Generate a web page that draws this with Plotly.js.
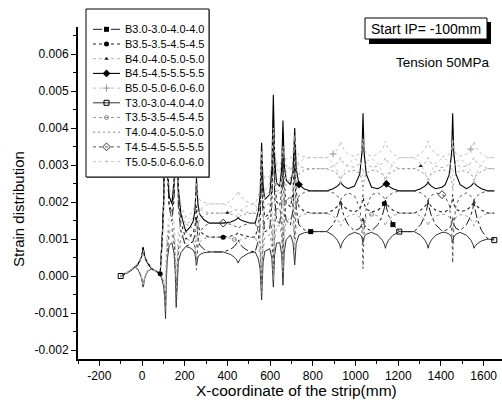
<!DOCTYPE html>
<html>
<head>
<meta charset="utf-8">
<script src="https://cdn.plot.ly/plotly-3.0.1.min.js"></script>
<style>html,body{margin:0;padding:0;background:#fff;}#chart{width:502px;height:414px;}</style>
</head>
<body>
<div id="chart"></div>
<script>
// Strain values are in units of 1e-3 (tick labels show the real strain)
const xPos = [
  -100, -60, -33, -20, -9, -2, 5, 13, 25, 45, 70, 85,
  95, 102, 107, 110, 113, 118, 127,
  140, 150, 156, 160, 164, 170, 182,
  205, 225, 240, 248, 255, 262, 270, 290, 315,
  380, 400, 415, 432, 442, 450, 458, 468, 485, 500, 530,
  545, 553, 560, 567, 575,
  598, 608, 615, 621, 630,
  645, 654, 660, 666, 675,
  695, 707, 715, 722, 735, 760, 790,
  865, 895, 915, 925, 930, 935, 945, 965, 995,
  1020, 1030, 1035, 1040, 1050, 1070,
  1075, 1105, 1125, 1135, 1140, 1145, 1155, 1175, 1205,
  1240,
  1275, 1305, 1325, 1335, 1340, 1345, 1355, 1375, 1405,
  1420, 1440, 1450, 1455, 1460, 1470, 1490,
  1520, 1540, 1550, 1555, 1560, 1570, 1590, 1620, 1650
];

const B30 = [
  0, 0.12, 0.25, 0.31, 0.43, 0.54, 0.78, 0.52, 0.36, 0.2, 0.12, 0.05,
  1.17, 2.29, 4.52, 7.5, 4.94, 3.02, 1.87,
  1.49, 2.08, 3.25, 5.0, 3.11, 1.85, 1.22,
  0.8, 0.86, 0.96, 1.12, 1.6, 1.03, 0.84, 0.72, 0.65,
  0.65, 0.68, 0.72, 0.8, 0.87, 0.98, 0.87, 0.8, 0.72, 0.68, 0.65,
  0.97, 1.4, 2.8, 1.57, 1.19,
  1.28, 1.92, 3.8, 2.13, 1.51,
  1.42, 1.9, 3.2, 1.96, 1.5,
  1.38, 1.78, 3.0, 1.83, 1.38, 1.25, 1.2,
  1.2, 1.39, 1.63, 1.84, 2.05, 1.84, 1.63, 1.39, 1.22,
  1.29, 1.4, 1.6, 1.4, 1.29, 1.23,
  1.22, 1.39, 1.63, 1.84, 2.05, 1.84, 1.63, 1.39, 1.2,
  1.2,
  1.2, 1.39, 1.63, 1.84, 2.05, 1.84, 1.63, 1.39, 1.22,
  1.23, 1.29, 1.4, 1.6, 1.4, 1.29, 1.23,
  1.39, 1.63, 1.84, 2.05, 1.79, 1.54, 1.23, 1.0, 1.0
];
const B35 = [
  0, 0.11, 0.24, 0.3, 0.41, 0.52, 0.74, 0.5, 0.35, 0.19, 0.11, 0.06,
  1.02, 1.99, 3.92, 6.5, 4.42, 2.86, 1.92,
  1.72, 2.35, 3.61, 5.5, 3.48, 2.13, 1.45,
  1.0, 1.07, 1.18, 1.36, 1.9, 1.39, 1.22, 1.11, 1.05,
  1.05, 1.06, 1.08, 1.11, 1.13, 1.17, 1.13, 1.11, 1.08, 1.06, 1.05,
  1.37, 1.8, 3.2, 1.97, 1.59,
  1.69, 2.35, 4.3, 2.63, 2.01,
  1.9, 2.36, 3.6, 2.42, 1.99,
  1.87, 2.24, 3.4, 2.3, 1.87, 1.75, 1.7,
  1.7, 1.78, 1.88, 1.96, 2.05, 1.96, 1.88, 1.78, 1.73,
  1.81, 1.95, 2.2, 1.95, 1.81, 1.74,
  1.73, 1.78, 1.88, 1.96, 2.05, 1.96, 1.88, 1.78, 1.7,
  1.7,
  1.7, 1.78, 1.88, 1.96, 2.05, 1.96, 1.88, 1.78, 1.73,
  1.74, 1.81, 1.95, 2.2, 1.95, 1.81, 1.74,
  1.78, 1.88, 1.96, 2.05, 1.96, 1.88, 1.78, 1.7, 1.7
];
const B40 = [
  0, 0.13, 0.26, 0.31, 0.42, 0.52, 0.72, 0.49, 0.35, 0.21, 0.13, 0.07,
  0.87, 1.69, 3.32, 5.5, 3.98, 2.84, 2.16,
  1.99, 2.43, 3.3, 4.6, 3.16, 2.2, 1.72,
  1.4, 1.47, 1.58, 1.76, 2.3, 1.94, 1.82, 1.74, 1.7,
  1.7, 1.71, 1.73, 1.76, 1.78, 1.82, 1.78, 1.76, 1.73, 1.71, 1.7,
  1.9, 2.16, 3.0, 2.48, 2.32,
  2.51, 3.04, 4.6, 3.36, 2.9,
  2.8, 3.09, 3.9, 3.22, 2.97,
  2.88, 3.06, 3.6, 3.15, 2.97, 2.92, 2.9,
  2.9, 2.97, 3.05, 3.13, 3.2, 3.13, 3.05, 2.97, 2.94,
  3.03, 3.2, 3.5, 3.2, 3.03, 2.95,
  2.94, 2.97, 3.05, 3.13, 3.2, 3.13, 3.05, 2.97, 2.9,
  2.9,
  2.9, 2.97, 3.05, 3.13, 3.2, 3.13, 3.05, 2.97, 2.93,
  2.95, 3.03, 3.2, 3.5, 3.2, 3.03, 2.95,
  2.97, 3.05, 3.13, 3.2, 3.13, 3.05, 2.97, 2.9, 2.9
];
const B45 = [
  0, 0.12, 0.25, 0.31, 0.43, 0.53, 0.76, 0.51, 0.36, 0.2, 0.12, 0.05,
  1.09, 2.14, 4.22, 7.0, 4.8, 3.15, 2.16,
  1.95, 2.63, 3.98, 6.0, 3.84, 2.4, 1.68,
  1.2, 1.32, 1.49, 1.78, 2.65, 1.92, 1.67, 1.52, 1.43,
  1.43, 1.44, 1.46, 1.5, 1.53, 1.58, 1.53, 1.5, 1.46, 1.44, 1.43,
  1.76, 2.19, 3.6, 2.43, 2.07,
  2.2, 2.89, 4.9, 3.16, 2.52,
  2.42, 2.9, 4.2, 3.02, 2.59,
  2.47, 2.84, 4.0, 2.9, 2.47, 2.35, 2.3,
  2.3, 2.36, 2.43, 2.49, 2.55, 2.49, 2.43, 2.36, 2.43,
  2.76, 3.35, 4.4, 3.35, 2.76, 2.47,
  2.4, 2.36, 2.43, 2.49, 2.55, 2.49, 2.43, 2.36, 2.3,
  2.3,
  2.3, 2.36, 2.43, 2.49, 2.55, 2.49, 2.43, 2.36, 2.4,
  2.47, 2.76, 3.35, 4.4, 3.35, 2.76, 2.47,
  2.36, 2.43, 2.49, 2.55, 2.49, 2.43, 2.36, 2.3, 2.3
];
const B50 = [
  0, 0.13, 0.27, 0.32, 0.42, 0.52, 0.7, 0.5, 0.37, 0.22, 0.13, 0.07,
  0.94, 1.84, 3.62, 6.0, 4.36, 3.13, 2.39,
  2.19, 2.63, 3.5, 4.8, 3.36, 2.4, 1.92,
  1.6, 1.67, 1.78, 1.96, 2.5, 2.17, 2.06, 1.99, 1.95,
  1.95, 1.98, 2.03, 2.11, 2.18, 2.3, 2.18, 2.11, 2.03, 1.98, 1.95,
  2.17, 2.46, 3.4, 2.82, 2.64,
  2.7, 3.03, 4.0, 3.32, 3.07,
  2.99, 3.13, 3.5, 3.25, 3.16,
  3.17, 3.32, 3.8, 3.41, 3.26, 3.22, 3.2,
  3.2, 3.3, 3.43, 3.54, 3.65, 3.54, 3.43, 3.3, 3.23,
  3.31, 3.45, 3.7, 3.45, 3.31, 3.24,
  3.23, 3.3, 3.43, 3.54, 3.65, 3.54, 3.43, 3.3, 3.2,
  3.2,
  3.2, 3.3, 3.43, 3.54, 3.65, 3.54, 3.43, 3.3, 3.23,
  3.24, 3.31, 3.45, 3.7, 3.45, 3.31, 3.24,
  3.3, 3.43, 3.54, 3.65, 3.54, 3.43, 3.3, 3.2, 3.2
];
const T30 = [
  0, 0.12, 0.25, 0.18, 0.06, -0.06, -0.3, -0.04, 0.13, 0.2, 0.12, 0.05,
  -0.13, -0.31, -0.67, -1.15, -0.25, 0.43, 0.83,
  0.9, 0.61, 0.03, -0.85, -0.11, 0.39, 0.63,
  0.8, 0.76, 0.7, 0.6, 0.3, 0.51, 0.58, 0.63, 0.65,
  0.65, 0.62, 0.58, 0.51, 0.45, 0.35, 0.45, 0.51, 0.58, 0.62, 0.65,
  0.46, 0.19, -0.65, 0.36, 0.67,
  0.74, 0.48, -0.3, 0.57, 0.89,
  0.9, 0.59, -0.25, 0.65, 0.98,
  1.11, 0.91, 0.3, 0.88, 1.11, 1.17, 1.2,
  1.2, 1.1, 0.97, 0.86, 0.75, 0.86, 0.97, 1.1, 1.18,
  1.13, 1.05, 0.9, 1.05, 1.13, 1.18,
  1.18, 1.1, 0.97, 0.86, 0.75, 0.86, 0.97, 1.1, 1.2,
  1.2,
  1.2, 1.1, 0.97, 0.86, 0.75, 0.86, 0.97, 1.1, 1.18,
  1.18, 1.13, 1.05, 0.9, 1.05, 1.13, 1.18,
  1.1, 0.97, 0.86, 0.75, 0.81, 0.87, 0.95, 1.0, 0.97
];
const T35 = [
  0, 0.11, 0.24, 0.18, 0.07, -0.05, -0.27, -0.03, 0.13, 0.19, 0.11, 0.06,
  -0.09, -0.24, -0.52, -0.9, -0.02, 0.64, 1.04,
  1.11, 0.83, 0.26, -0.6, 0.12, 0.6, 0.84,
  1.0, 0.96, 0.89, 0.78, 0.45, 0.81, 0.93, 1.01, 1.05,
  1.05, 1.04, 1.02, 0.99, 0.97, 0.93, 0.97, 0.99, 1.02, 1.04, 1.05,
  0.83, 0.53, -0.45, 0.69, 1.04,
  1.12, 0.81, -0.1, 0.95, 1.34,
  1.37, 1.03, 0.1, 1.09, 1.46,
  1.6, 1.38, 0.7, 1.35, 1.6, 1.67, 1.7,
  1.7, 1.62, 1.52, 1.44, 1.35, 1.44, 1.52, 1.62, 1.67,
  1.59, 1.45, 1.2, 1.45, 1.59, 1.66,
  1.67, 1.62, 1.52, 1.44, 1.35, 1.44, 1.52, 1.62, 1.7,
  1.7,
  1.7, 1.62, 1.52, 1.44, 1.35, 1.44, 1.52, 1.62, 1.67,
  1.66, 1.59, 1.45, 1.2, 1.45, 1.59, 1.66,
  1.62, 1.52, 1.44, 1.35, 1.44, 1.52, 1.62, 1.7, 1.7
];
const T40 = [
  0, 0.13, 0.26, 0.19, 0.08, -0.03, -0.24, -0.01, 0.14, 0.21, 0.13, 0.07,
  -0.05, -0.15, -0.34, -0.6, 0.32, 1.01, 1.42,
  1.5, 1.2, 0.59, -0.3, 0.47, 0.98, 1.23,
  1.4, 1.35, 1.27, 1.14, 0.75, 1.32, 1.51, 1.63, 1.7,
  1.7, 1.69, 1.67, 1.64, 1.62, 1.58, 1.62, 1.64, 1.67, 1.69, 1.7,
  1.46, 1.14, 0.1, 1.46, 1.88,
  1.98, 1.6, 0.5, 1.8, 2.28,
  2.33, 1.92, 0.8, 2.04, 2.5,
  2.67, 2.38, 1.5, 2.41, 2.76, 2.86, 2.9,
  2.9, 2.83, 2.75, 2.68, 2.6, 2.68, 2.75, 2.83, 2.86,
  2.77, 2.6, 2.3, 2.6, 2.77, 2.85,
  2.86, 2.83, 2.75, 2.68, 2.6, 2.68, 2.75, 2.83, 2.9,
  2.9,
  2.9, 2.83, 2.75, 2.68, 2.6, 2.68, 2.75, 2.83, 2.87,
  2.85, 2.77, 2.6, 2.3, 2.6, 2.77, 2.85,
  2.83, 2.75, 2.68, 2.6, 2.68, 2.75, 2.83, 2.9, 2.9
];
const T45 = [
  0, 0.12, 0.25, 0.18, 0.05, -0.07, -0.32, -0.05, 0.12, 0.2, 0.12, 0.05,
  -0.11, -0.27, -0.58, -1.0, 0.0, 0.75, 1.2,
  1.28, 0.95, 0.29, -0.7, 0.16, 0.73, 1.01,
  1.2, 1.12, 0.99, 0.78, 0.16, 0.92, 1.18, 1.34, 1.43,
  1.43, 1.42, 1.4, 1.36, 1.33, 1.28, 1.33, 1.36, 1.4, 1.42, 1.43,
  1.19, 0.86, -0.2, 1.1, 1.5,
  1.59, 1.24, 0.2, 1.38, 1.81,
  1.84, 1.45, 0.4, 1.58, 2.01,
  2.17, 1.88, 1.0, 1.84, 2.17, 2.26, 2.3,
  2.3, 2.25, 2.17, 2.11, 2.05, 2.11, 2.17, 2.25, 2.17,
  1.84, 1.25, 0.2, 1.25, 1.84, 2.13,
  2.2, 2.25, 2.17, 2.11, 2.05, 2.11, 2.17, 2.25, 2.3,
  2.3,
  2.3, 2.25, 2.17, 2.11, 2.05, 2.11, 2.17, 2.25, 2.2,
  2.15, 1.9, 1.33, 0.35, 1.33, 1.9, 2.15,
  2.25, 2.17, 2.11, 2.05, 2.11, 2.17, 2.25, 2.3, 2.3
];
const T50 = [
  0, 0.13, 0.27, 0.2, 0.09, -0.02, -0.22, 0.0, 0.15, 0.22, 0.13, 0.07,
  -0.02, -0.09, -0.22, -0.4, 0.52, 1.21, 1.62,
  1.71, 1.43, 0.86, 0.0, 0.72, 1.2, 1.44,
  1.6, 1.55, 1.48, 1.36, 1.0, 1.57, 1.76, 1.88, 1.95,
  1.95, 1.92, 1.88, 1.81, 1.75, 1.65, 1.75, 1.81, 1.88, 1.92, 1.95,
  1.7, 1.37, 0.3, 1.73, 2.17,
  2.28, 1.9, 0.8, 2.1, 2.58,
  2.64, 2.25, 1.2, 2.38, 2.81,
  2.99, 2.75, 2.0, 2.78, 3.08, 3.17, 3.2,
  3.2, 3.04, 2.82, 2.64, 2.45, 2.64, 2.82, 3.04, 3.17,
  3.09, 2.95, 2.7, 2.95, 3.09, 3.16,
  3.17, 3.04, 2.82, 2.64, 2.45, 2.64, 2.82, 3.04, 3.2,
  3.2,
  3.2, 3.04, 2.82, 2.64, 2.45, 2.64, 2.82, 3.04, 3.18,
  3.16, 3.09, 2.95, 2.7, 2.95, 3.09, 3.16,
  3.04, 2.82, 2.64, 2.45, 2.64, 2.82, 3.04, 3.2, 3.2
];

const seriesNames = [
  'B3.0-3.0-4.0-4.0', 'B3.5-3.5-4.5-4.5', 'B4.0-4.0-5.0-5.0', 'B4.5-4.5-5.5-5.5', 'B5.0-5.0-6.0-6.0',
  'T3.0-3.0-4.0-4.0', 'T3.5-3.5-4.5-4.5', 'T4.0-4.0-5.0-5.0', 'T4.5-4.5-5.5-5.5', 'T5.0-5.0-6.0-6.0'
];
const seriesValues = [B30, B35, B40, B45, B50, T30, T35, T40, T45, T50];
// x positions (on the sampling grid) where the series symbol is drawn
const markerAt = [
  [790, 1175], [85, 380, 1135], [400, 1305], [735, 1145], [895, 1540],
  [-100, 1205, 1650], [432, 1075], [], [380, 1405], []
];

const xTickVals = [-200, 0, 200, 400, 600, 800, 1000, 1200, 1400, 1600];
const xTickText = ['-200', '0', '200', '400', '600', '800', '1000', '1200', '1400', '1600'];
const yTickVals = [-2, -1, 0, 1, 2, 3, 4, 5, 6];
const yTickText = ['-0.002', '-0.001', '0.000', '0.001', '0.002', '0.003', '0.004', '0.005', '0.006'];

const styles = [
  {line: {color: '#1a1a1a', width: 1, dash: 'dashdot'}, marker: {symbol: 'square', size: 5, color: '#000'}},
  {line: {color: '#222', width: 1.1, dash: 'dot'}, marker: {symbol: 'circle', size: 5, color: '#000'}},
  {line: {color: '#b0b0b0', width: 1, dash: 'dot'}, marker: {symbol: 'triangle-up', size: 4, color: '#222'}},
  {line: {color: '#000', width: 1.1, dash: 'solid'}, marker: {symbol: 'diamond', size: 6, color: '#000'}},
  {line: {color: '#c0c0c0', width: 1, dash: 'dot'}, marker: {symbol: 'cross-thin', size: 5, color: '#999', line: {color: '#999', width: 1}}},
  {line: {color: '#333', width: 1, dash: 'solid'}, marker: {symbol: 'square-open', size: 5, color: '#000', line: {width: 1}}},
  {line: {color: '#9a9a9a', width: 1, dash: 'dot'}, marker: {symbol: 'circle-open', size: 4, color: '#888', line: {width: 1}}},
  {line: {color: '#888', width: 1, dash: '2px,3px'}, marker: null},
  {line: {color: '#555', width: 1, dash: 'dot'}, marker: {symbol: 'diamond-open', size: 6, color: '#333', line: {width: 1}}},
  {line: {color: '#c8c8c8', width: 1, dash: 'dot'}, marker: {symbol: 'circle', size: 2, color: '#bbb'}}
];

const FONT = 'Liberation Sans, Arial, sans-serif';
const W = 502, H = 414;
const px = v => v / W;          // pixel -> paper x
const py = v => 1 - v / H;      // pixel -> paper y

const traces = [];
seriesValues.forEach((ys, i) => {
  traces.push({
    type: 'scatter', mode: 'lines', x: xPos, y: ys, name: seriesNames[i],
    line: styles[i].line, showlegend: false, hoverinfo: 'skip', xaxis: 'x', yaxis: 'y'
  });
});
seriesValues.forEach((ys, i) => {
  if (!styles[i].marker || markerAt[i].length === 0) return;
  const mx = [], my = [];
  markerAt[i].forEach(xv => { const k = xPos.indexOf(xv); if (k >= 0) { mx.push(xPos[k]); my.push(ys[k]); } });
  traces.push({
    type: 'scatter', mode: 'markers', x: mx, y: my, marker: styles[i].marker,
    showlegend: false, hoverinfo: 'skip', xaxis: 'x', yaxis: 'y'
  });
});

// custom legend (pixel-based helper axes x2/y2)
const legendAnn = [];
seriesNames.forEach((name, i) => {
  const yy = 29.3 + 14.7 * i;
  traces.push({type: 'scatter', mode: 'lines', x: [93, 120], y: [yy, yy], line: styles[i].line,
    showlegend: false, hoverinfo: 'skip', xaxis: 'x2', yaxis: 'y2'});
  if (styles[i].marker) {
    traces.push({type: 'scatter', mode: 'markers', x: [106.5], y: [yy], marker: styles[i].marker,
      showlegend: false, hoverinfo: 'skip', xaxis: 'x2', yaxis: 'y2', cliponaxis: false});
  }
  legendAnn.push({xref: 'x2', yref: 'y2', x: 123, y: yy, xanchor: 'left', yanchor: 'middle',
    text: name, showarrow: false, font: {family: FONT, size: 11, color: '#000'}});
});

const layout = {
  width: W, height: H,
  margin: {l: 0, r: 0, t: 0, b: 0, pad: 0},
  paper_bgcolor: '#fff', plot_bgcolor: 'rgba(0,0,0,0)',
  showlegend: false,
  font: {family: FONT, size: 12, color: '#000'},
  xaxis: {
    domain: [px(78), 1], range: [-300, 1686], anchor: 'y',
    showline: true, linecolor: '#000', linewidth: 1.5, mirror: false,
    ticks: 'outside', ticklen: 5, tickwidth: 1, tickcolor: '#000',
    tickmode: 'array', tickvals: xTickVals, ticktext: xTickText,
    tickfont: {family: FONT, size: 12, color: '#000'},
    minor: {ticks: 'outside', ticklen: 3, tickwidth: 1, tickcolor: '#000', tickmode: 'linear', tick0: 0, dtick: 100, showgrid: false},
    showgrid: false, zeroline: false, automargin: false
  },
  yaxis: {
    domain: [1 - 359 / H, 1 - 27 / H], range: [-2.243, 6.73], anchor: 'x',
    showline: true, linecolor: '#000', linewidth: 2, mirror: false,
    ticks: 'outside', ticklen: 5, tickwidth: 1, tickcolor: '#000',
    tickmode: 'array', tickvals: yTickVals, ticktext: yTickText,
    tickfont: {family: FONT, size: 12, color: '#000'},
    minor: {ticks: 'outside', ticklen: 3, tickwidth: 1, tickcolor: '#000', tickmode: 'linear', tick0: 0, dtick: 0.5, showgrid: false},
    showgrid: false, zeroline: false, automargin: false
  },
  xaxis2: {domain: [px(84), px(214)], range: [84, 214], anchor: 'y2', visible: false, fixedrange: true},
  yaxis2: {domain: [1 - 183 / H, 1 - 7 / H], range: [183, 7], anchor: 'x2', visible: false, fixedrange: true},
  shapes: [
    // legend shadow + box (drawn in the legend subplot, beneath its samples)
    {type: 'rect', xref: 'x2', yref: 'y2', x0: 87, x1: 210, y0: 10, y1: 178, layer: 'below',
      fillcolor: '#888', line: {width: 0}},
    {type: 'rect', xref: 'x2', yref: 'y2', x0: 86, x1: 209, y0: 9, y1: 177, layer: 'below',
      fillcolor: '#fff', line: {color: '#000', width: 1}},
    // "Start IP" box with shadow
    {type: 'rect', xref: 'paper', yref: 'paper', x0: px(369), x1: px(491), y0: py(44), y1: py(22), layer: 'above',
      fillcolor: '#000', line: {width: 0}},
    {type: 'rect', xref: 'paper', yref: 'paper', x0: px(365), x1: px(487), y0: py(39), y1: py(18), layer: 'above',
      fillcolor: '#fff', line: {color: '#000', width: 1}}
  ],
  annotations: legendAnn.concat([
    {xref: 'paper', yref: 'paper', x: px(426), y: py(29), xanchor: 'center', yanchor: 'middle', showarrow: false,
      text: 'Start IP= -100mm', font: {family: FONT, size: 14, color: '#000'}},
    {xref: 'paper', yref: 'paper', x: px(443), y: py(62), xanchor: 'center', yanchor: 'middle', showarrow: false,
      text: 'Tension 50MPa', font: {family: FONT, size: 13.5, color: '#000'}},
    {xref: 'paper', yref: 'paper', x: px(296), y: py(390), xanchor: 'center', yanchor: 'middle', showarrow: false,
      text: 'X-coordinate of the strip(mm)', font: {family: FONT, size: 15.5, color: '#000'}},
    {xref: 'paper', yref: 'paper', x: px(18), y: py(209), xanchor: 'center', yanchor: 'middle', showarrow: false,
      textangle: -90, text: 'Strain distribution', font: {family: FONT, size: 15, color: '#000'}}
  ])
};

Plotly.newPlot('chart', traces, layout, {staticPlot: true, displayModeBar: false});
</script>
</body>
</html>
